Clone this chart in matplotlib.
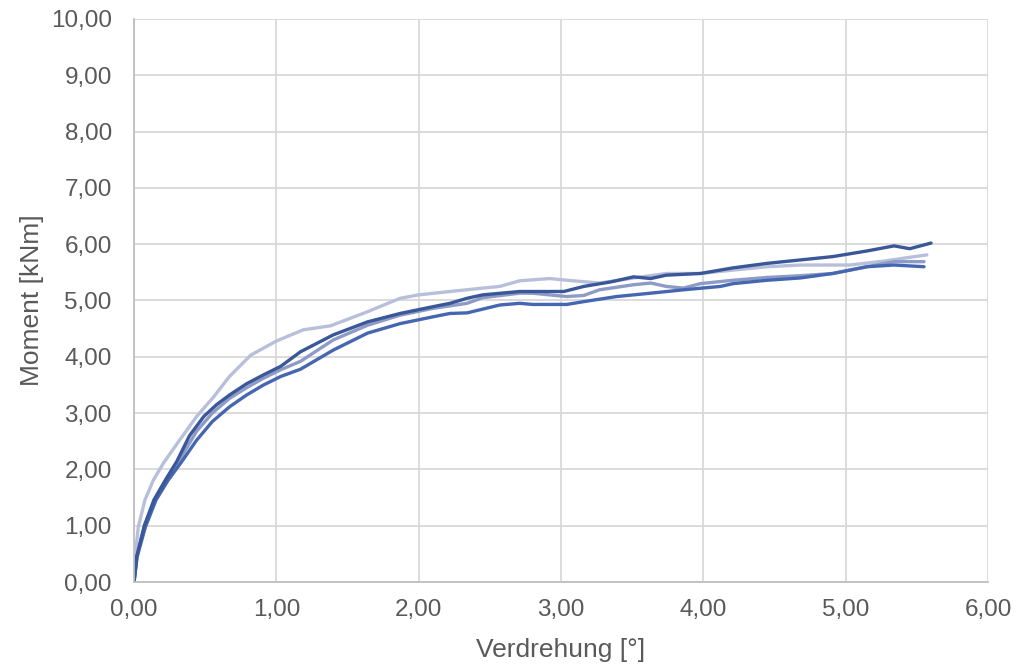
import matplotlib
matplotlib.use("Agg")
import matplotlib.pyplot as plt
from matplotlib.ticker import FuncFormatter, MultipleLocator

plt.rcParams["font.family"] = ["Liberation Sans", "DejaVu Sans"]

# Verdrehung [°] / Moment [kNm]
a_x = [0, 0.018, 0.072, 0.14, 0.22, 0.30, 0.39, 0.49, 0.58, 0.67, 0.79, 0.91, 1.03,
       1.17, 1.40, 1.64, 1.87, 2.10, 2.22, 2.34, 2.45, 2.71, 3.02, 3.16, 3.35,
       3.51, 3.63, 3.74, 3.98, 4.21, 4.45, 4.68, 4.91, 5.15, 5.34, 5.45, 5.60]
a_y = [0, 0.45, 1.00, 1.46, 1.81, 2.14, 2.60, 2.94, 3.15, 3.32, 3.52, 3.68, 3.83,
       4.09, 4.39, 4.62, 4.77, 4.89, 4.95, 5.04, 5.10, 5.16, 5.16, 5.25, 5.33,
       5.42, 5.39, 5.45, 5.48, 5.58, 5.66, 5.72, 5.78, 5.88, 5.97, 5.92, 6.02]

b_x = [0, 0.022, 0.08, 0.155, 0.24, 0.33, 0.44, 0.55, 0.67, 0.79, 0.91, 1.03, 1.17,
       1.40, 1.64, 1.87, 2.10, 2.22, 2.34, 2.57, 2.71, 2.80, 3.04, 3.16, 3.39,
       3.63, 3.86, 4.12, 4.21, 4.45, 4.68, 4.91, 5.15, 5.34, 5.55]
b_y = [0, 0.45, 0.98, 1.46, 1.81, 2.12, 2.52, 2.85, 3.11, 3.32, 3.50, 3.65, 3.78,
       4.12, 4.42, 4.59, 4.71, 4.77, 4.78, 4.92, 4.95, 4.93, 4.93, 4.98, 5.07,
       5.13, 5.19, 5.25, 5.30, 5.36, 5.40, 5.48, 5.60, 5.63, 5.60]

c_x = [0, 0.02, 0.075, 0.145, 0.225, 0.31, 0.44, 0.55, 0.67, 0.79, 0.91, 1.03, 1.17,
       1.40, 1.64, 1.87, 2.10, 2.34, 2.45, 2.71, 2.80, 3.04, 3.16, 3.27, 3.51,
       3.63, 3.74, 3.86, 3.98, 4.21, 4.45, 4.68, 4.91, 5.15, 5.34, 5.55]
c_y = [0, 0.45, 1.00, 1.46, 1.81, 2.13, 2.68, 3.00, 3.26, 3.45, 3.62, 3.77, 3.92,
       4.30, 4.56, 4.74, 4.86, 4.95, 5.05, 5.13, 5.13, 5.07, 5.09, 5.19, 5.28,
       5.31, 5.25, 5.22, 5.30, 5.36, 5.41, 5.44, 5.48, 5.60, 5.69, 5.69]

d_x = [0, 0.007, 0.03, 0.077, 0.136, 0.206, 0.32, 0.44, 0.56, 0.67, 0.82, 1.00,
       1.19, 1.38, 1.64, 1.87, 2.00, 2.22, 2.45, 2.57, 2.71, 2.92, 3.04, 3.27,
       3.51, 3.74, 3.98, 4.21, 4.45, 4.68, 5.03, 5.27, 5.43, 5.57]
d_y = [0, 0.45, 0.98, 1.46, 1.81, 2.11, 2.52, 2.94, 3.29, 3.65, 4.03, 4.28,
       4.48, 4.55, 4.80, 5.04, 5.10, 5.16, 5.22, 5.25, 5.35, 5.39, 5.36, 5.31,
       5.40, 5.48, 5.48, 5.54, 5.60, 5.63, 5.63, 5.70, 5.76, 5.81]

series = [
    (d_x, d_y, "#b8bfdb"),
    (c_x, c_y, "#8d9bc6"),
    (b_x, b_y, "#4566b0"),
    (a_x, a_y, "#3a5799"),
]

fig = plt.figure(figsize=(10.17, 6.66), dpi=100)
ax = fig.add_axes([0.1318, 0.1261, 0.8397, 0.8454])

for xs, ys, col in series:
    ax.plot(xs, ys, color=col, linewidth=2.4, solid_joinstyle="round",
            solid_capstyle="round")

ax.set_xlim(0, 6)
ax.set_ylim(0, 10)
ax.xaxis.set_major_locator(MultipleLocator(1))
ax.yaxis.set_major_locator(MultipleLocator(1))
fmt = FuncFormatter(lambda v, p: f"{v:.2f}".replace(".", ","))
ax.xaxis.set_major_formatter(fmt)
ax.yaxis.set_major_formatter(fmt)

ax.grid(color="#d9d9d9", linewidth=1.3)
ax.set_axisbelow(True)
for s in ["top", "right"]:
    ax.spines[s].set_visible(False)
for s in ["left", "bottom"]:
    ax.spines[s].set_color("#bfbfbf")
    ax.spines[s].set_linewidth(1.3)

ax.tick_params(length=0, labelsize=17.5, labelcolor="#595959")
ax.tick_params(axis="y", pad=16)
ax.tick_params(axis="x", pad=12)

ax.set_xlabel("Verdrehung [°]", fontsize=19, color="#595959")
ax.set_ylabel("Moment [kNm]", fontsize=19, color="#595959")
ax.yaxis.set_label_coords(-0.106, 0.5)
ax.xaxis.set_label_coords(0.5, -0.099)

fig.savefig("out.png", dpi=100)
